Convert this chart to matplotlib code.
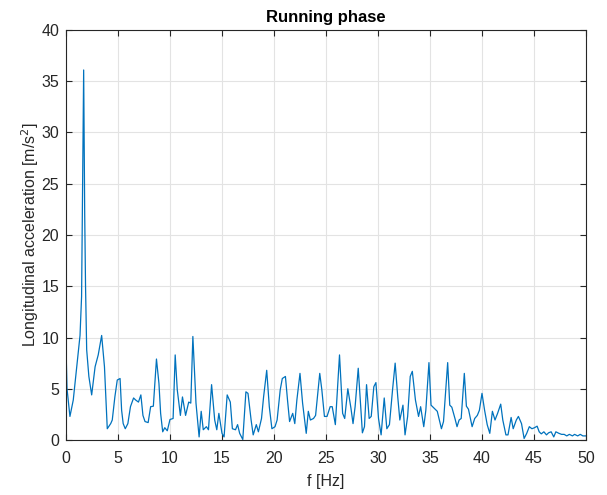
import matplotlib
matplotlib.use('Agg')
from matplotlib import pyplot as plt

plt.rcParams['font.family'] = ['Liberation Sans', 'DejaVu Sans']

freq = [0.0, 0.1, 0.38, 0.7, 1.03, 1.35, 1.5, 1.7, 1.8, 1.88, 1.99, 2.2, 2.47,
        2.8, 3.1, 3.43, 3.7, 3.97, 4.3, 4.45, 4.7, 4.93, 5.2, 5.35, 5.5, 5.7,
        5.95, 6.2, 6.5, 6.7, 6.97, 7.2, 7.4, 7.6, 7.9, 8.14, 8.4, 8.7, 8.94, 9.1,
        9.3, 9.5, 9.74, 10.0, 10.3, 10.5, 10.7, 11.0, 11.2, 11.5, 11.8, 12.0, 12.2,
        12.5, 12.8, 13.0, 13.2, 13.5, 13.7, 14.0, 14.3, 14.5, 14.7, 15.0, 15.2,
        15.5, 15.8, 16.0, 16.3, 16.5, 16.7, 17.0, 17.3, 17.5, 17.8, 18.0, 18.3,
        18.5, 18.8, 19.0, 19.3, 19.55, 19.8, 20.1, 20.3, 20.6, 20.8, 21.1, 21.3,
        21.5, 21.8, 22.0, 22.2, 22.5, 22.75, 23.1, 23.3, 23.5, 23.8, 24.0, 24.4,
        24.6, 24.85, 25.1, 25.4, 25.6, 25.9, 26.1, 26.3, 26.6, 26.8, 27.1, 27.4,
        27.6, 27.8, 28.1, 28.3, 28.5, 28.7, 28.9, 29.15, 29.35, 29.6, 29.8, 30.05,
        30.3, 30.6, 30.85, 31.1, 31.4, 31.65, 31.9, 32.1, 32.4, 32.6, 32.85, 33.1,
        33.3, 33.6, 33.9, 34.1, 34.4, 34.6, 34.9, 35.1, 35.4, 35.7, 36.1, 36.3,
        36.7, 36.9, 37.1, 37.4, 37.6, 37.8, 38.0, 38.3, 38.5, 38.7, 39.05, 39.3,
        39.55, 39.75, 40.0, 40.25, 40.5, 40.75, 41.0, 41.25, 41.5, 41.8, 42.0,
        42.3, 42.5, 42.8, 43.0, 43.3, 43.5, 43.8, 44.05, 44.3, 44.55, 44.8, 45.05,
        45.3, 45.5, 45.7, 45.95, 46.2, 46.4, 46.65, 46.9, 47.1, 47.4, 47.65, 47.9,
        48.15, 48.4, 48.7, 48.9, 49.2, 49.45, 49.7, 50.0]

accel = [9.1, 5.0, 2.3, 3.9, 7.15, 10.2, 14.0, 36.1, 22.0, 15.0, 8.8, 6.2, 4.4,
         7.15, 8.3, 10.2, 7.15, 1.1, 1.6, 1.95, 4.2, 5.85, 6.0, 2.9, 1.6, 1.1,
         1.6, 3.25, 4.1, 3.9, 3.7, 4.4, 2.4, 1.8, 1.7, 3.25, 3.3, 7.9, 5.5, 2.6,
         0.8, 1.2, 0.9, 2.0, 2.1, 8.3, 4.9, 2.4, 4.2, 2.4, 3.7, 3.6, 10.1,
         3.6, 0.3, 2.8, 1.0, 1.3, 1.0, 5.4, 1.95, 1.0, 2.6, 0.65, 0.3,
         4.4, 3.7, 1.1, 1.0, 1.5, 0.65, 0.05, 4.7, 4.55, 1.95, 0.5, 1.5,
         0.8, 2.1, 4.2, 6.8, 3.25, 1.1, 1.3, 1.95, 4.9, 6.0, 6.2, 3.9,
         1.8, 2.6, 1.6, 3.9, 6.5, 3.6, 0.65, 2.8, 1.95, 2.1, 2.4, 6.5,
         4.9, 2.3, 2.3, 3.25, 3.25, 1.5, 4.9, 8.3, 2.6, 2.1, 5.0, 3.1,
         1.6, 3.25, 7.0, 3.9, 0.7, 1.3, 5.4, 2.1, 2.3, 5.2, 5.6, 2.1,
         0.5, 4.1, 1.1, 1.5, 4.9, 7.5, 4.2, 1.95, 3.4, 0.5, 2.3, 6.2,
         6.7, 3.9, 2.3, 3.25, 1.3, 2.9, 7.55, 3.4, 3.1, 2.8, 1.1, 1.8,
         7.55, 3.4, 3.2, 2.1, 1.3, 1.95, 2.1, 6.5, 3.3, 3.0, 1.3, 2.1,
         2.4, 2.9, 4.55, 2.9, 1.5, 0.65, 2.8, 1.95, 2.6, 3.5, 1.95,
         0.5, 0.5, 2.2, 1.1, 1.95, 2.3, 1.6, 0.15, 0.65, 1.3, 1.1, 1.2,
         1.35, 0.8, 0.6, 0.8, 0.5, 0.7, 0.8, 0.3, 0.8, 0.65, 0.55, 0.55,
         0.4, 0.55, 0.4, 0.55, 0.4, 0.55, 0.4, 0.4]

fig = plt.figure(figsize=(6.07, 4.95), dpi=100)
ax = fig.add_axes([0.1087, 0.1111, 0.8567, 0.8283])

ax.plot(freq, accel, color='#0072BD', linewidth=0.9)

ax.set_xlim(0, 50)
ax.set_ylim(0, 40)
ax.set_xticks(range(0, 51, 5))
ax.set_yticks(range(0, 41, 5))
ax.grid(True, color='#e3e3e3', linewidth=0.8)
ax.set_axisbelow(True)
ax.tick_params(direction='in', top=True, right=True, labelsize=11.5,
               colors='#262626', length=4)
ax.tick_params(axis='x', pad=8)
ax.tick_params(axis='y', pad=5)
for s in ax.spines.values():
    s.set_color('#262626')
    s.set_linewidth(0.8)

ax.set_xlabel('f [Hz]', fontsize=11.5, color='#262626', labelpad=6)
ax.set_ylabel('Longitudinal acceleration [m/s$^2$]', fontsize=11.5,
              color='#262626', labelpad=0)
ax.set_title('Running phase', fontsize=12, fontweight='bold', color='#000000',
             pad=6)

fig.savefig('out.png', dpi=100)
